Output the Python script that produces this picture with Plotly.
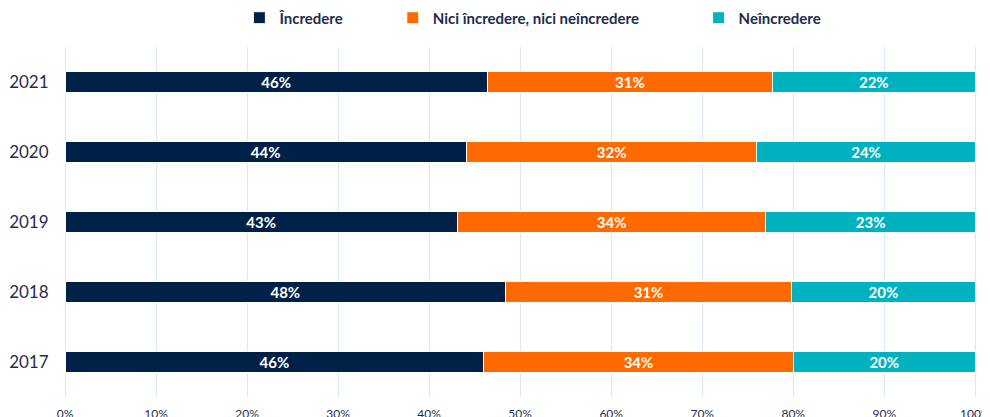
import plotly.graph_objects as go

ani = ["2017", "2018", "2019", "2020", "2021"]
incredere = [46.0, 48.4, 43.1, 44.1, 46.4]
nici = [34.0, 31.4, 33.9, 31.9, 31.3]
neincredere = [20.0, 20.2, 23.0, 24.0, 22.3]

_FONT = "Lato, 'Open Sans', sans-serif"
_TEXT = "#1f2d4d"
_GRID = "#d9e7f7"

serii = [
    ("Încredere", incredere, "#002147", "legend"),
    ("Nici încredere, nici neîncredere", nici, "#ff6a00", "legend2"),
    ("Neîncredere", neincredere, "#00b1bf", "legend3"),
]

fig = go.Figure()
for nume, valori, culoare, leg in serii:
    fig.add_trace(go.Bar(
        name=nume,
        y=ani,
        x=valori,
        orientation="h",
        marker=dict(color=culoare, line=dict(color="white", width=1)),
        texttemplate="%{x:.0f}%",
        textposition="inside",
        insidetextanchor="middle",
        constraintext="none",
        textfont=dict(family=_FONT, size=15, color="white", weight="bold"),
        legend=leg,
    ))

_leg = dict(
    orientation="h",
    yanchor="middle",
    y=1.083,
    xanchor="left",
    font=dict(family=_FONT, size=15, color=_TEXT, weight="bold"),
    bgcolor="rgba(0,0,0,0)",
)

# the page body adds an 8px margin, so the figure is sized to fit inside it
fig.update_layout(
    barmode="stack",
    bargap=0.69,
    width=982,
    height=409,
    paper_bgcolor="white",
    plot_bgcolor="white",
    margin=dict(l=57, r=12, t=39, b=20, autoexpand=False),
    font=dict(family=_FONT, color=_TEXT),
    legend=dict(_leg, x=0.191),
    legend2=dict(_leg, x=0.359),
    legend3=dict(_leg, x=0.694),
    xaxis=dict(
        range=[0, 100.3],
        tickvals=list(range(0, 101, 10)),
        ticktext=[f"{v}%" for v in range(0, 101, 10)],
        showgrid=True,
        gridcolor=_GRID,
        gridwidth=1,
        zeroline=True,
        zerolinecolor=_GRID,
        zerolinewidth=1,
        ticks="outside",
        ticklen=6,
        tickcolor="rgba(0,0,0,0)",
        tickfont=dict(family=_FONT, size=12, color=_TEXT),
        ticklabeloverflow="allow",
        automargin=False,
    ),
    yaxis=dict(
        categoryorder="array",
        categoryarray=ani,
        showgrid=False,
        ticks="outside",
        ticklen=12,
        tickcolor="rgba(0,0,0,0)",
        tickfont=dict(family=_FONT, size=17, color=_TEXT),
        automargin=False,
    ),
    showlegend=True,
)

fig.write_html("out.html")
